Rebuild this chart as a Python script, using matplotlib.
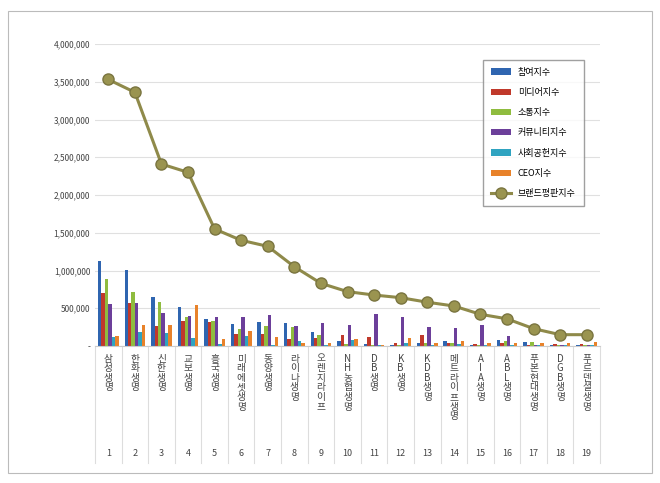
import matplotlib
matplotlib.use("Agg")
import matplotlib.pyplot as plt
import numpy as np
from matplotlib.patches import Rectangle

plt.rcParams['font.family'] = ['Noto Sans CJK KR', 'DejaVu Sans']

companies = ["삼성생명","한화생명","신한생명","교보생명","흥국생명","미래에셋생명","동양생명","라이나생명",
             "오렌지라이프","NH농협생명","DB생명","KB생명","KDB생명","메트라이프생명","AIA생명","ABL생명",
             "푸본현대생명","DGB생명","푸르덴셜생명"]
participation = [1120000,1010000,646000,522000,358000,292000,314000,305000,190000,66000,22000,9000,35000,71000,9000,80000,53000,13000,9000]
media = [700000,575000,265000,336000,323000,155000,159000,97000,106000,146000,120000,35000,146000,44000,22000,35000,18000,22000,22000]
communication = [890000,717000,584000,389000,332000,226000,265000,252000,146000,27000,18000,9000,35000,44000,9000,66000,53000,9000,9000]
community = [560000,566000,442000,398000,389000,385000,411000,261000,305000,279000,430000,390000,248000,239000,274000,133000,9000,18000,18000]
social = [115000,186000,172000,106000,27000,133000,13000,62000,18000,80000,13000,44000,13000,22000,9000,13000,13000,13000,13000]
ceo = [133000,274000,274000,544000,88000,195000,120000,44000,40000,93000,9000,102000,44000,62000,44000,35000,40000,35000,53000]
brand = [3530000,3360000,2410000,2300000,1550000,1400000,1320000,1050000,830000,720000,675000,640000,580000,530000,420000,360000,230000,150000,150000]

series = [("참여지수",participation,"#2f65b0"),("미디어지수",media,"#c0392b"),("소통지수",communication,"#8fbc3f"),
          ("커뮤니티지수",community,"#6c3f9a"),("사회공헌지수",social,"#2fa3c0"),("CEO지수",ceo,"#e8822a")]

fig = plt.figure(figsize=(6.6,4.83), dpi=100)
fig.patches.append(Rectangle((8/660,10/483),644/660,462/483,transform=fig.transFigure,fill=False,edgecolor="#bbbbbb",lw=0.8))
ax = fig.add_axes([95/660,(483-346)/483,505/660,(346-44)/483])
x = np.arange(len(companies))
w = 0.13
for i,(name,vals,c) in enumerate(series):
    ax.bar(x+(i-2.5)*w, vals, w, color=c, label=name)
ax.plot(x, brand, color="#8f8a4a", lw=2.2, marker="o", ms=8, mfc="#9a9450", mec="#7a7540", label="브랜드평판지수")
ax.set_xlim(-0.5,len(companies)-0.5)
ax.set_ylim(0,4000000)
ax.set_yticks(np.arange(0,4000001,500000))
ax.set_yticklabels(["-"]+[f"{v:,}" for v in range(500000,4000001,500000)], fontsize=6, color="#444444")
ax.grid(axis="y", color="#e0e0e0", lw=0.8)
ax.set_axisbelow(True)
for s in ["top","right","left"]:
    ax.spines[s].set_visible(False)
ax.spines["bottom"].set_color("#cccccc")
ax.tick_params(axis="y", length=0)
ax.tick_params(axis="x", length=0)
ax.set_xticks(x)
ax.set_xticklabels([""]*len(x))
for i,name in enumerate(companies):
    ax.text(i, -100000, "\n".join(name), ha="center", va="top", fontsize=7, color="#444444", linespacing=0.95)
    ax.text(i, -1430000, str(i+1), ha="center", va="center", fontsize=6.5, color="#444444")
    if i>0:
        ax.plot([i-0.5,i-0.5],[0,-1550000], color="#dddddd", lw=0.8, clip_on=False)
ax.plot([-0.5,-0.5],[0,-1550000], color="#dddddd", lw=0.8, clip_on=False)
ax.plot([len(x)-0.5]*2,[0,-1550000], color="#dddddd", lw=0.8, clip_on=False)
handles, labels = ax.get_legend_handles_labels()
order = [1,2,3,4,5,6,0]
leg = ax.legend([handles[k] for k in order], [labels[k] for k in order],
                loc="upper left", bbox_to_anchor=(383/505, (346-55)/302), fontsize=6.5, frameon=True,
                fancybox=False, edgecolor="#888888", labelspacing=1.25, handlelength=2.2, borderpad=0.9)
fig.savefig("out.png", dpi=100)
